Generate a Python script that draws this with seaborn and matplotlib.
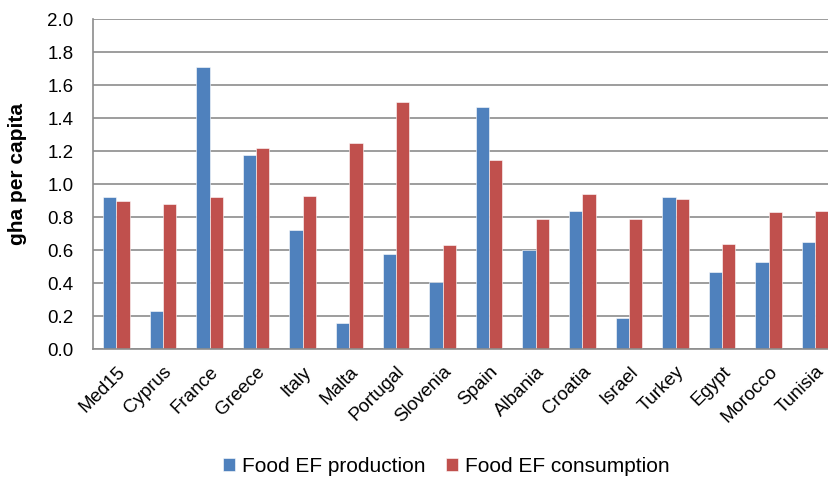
import pandas as pd
import seaborn as sns
import matplotlib.pyplot as plt

# 数据
countries = ['Med15', 'Cyprus', 'France', 'Greece', 'Italy', 'Malta', 'Portugal', 'Slovenia',
             'Spain', 'Albania', 'Croatia', 'Israel', 'Turkey', 'Egypt', 'Morocco', 'Tunisia']
production = [0.92, 0.23, 1.71, 1.18, 0.72, 0.16, 0.58, 0.41,
              1.47, 0.60, 0.84, 0.19, 0.92, 0.47, 0.53, 0.65]
consumption = [0.90, 0.88, 0.92, 1.22, 0.93, 1.25, 1.50, 0.63,
               1.15, 0.79, 0.94, 0.79, 0.91, 0.64, 0.83, 0.84]
series_names = ['Food EF production', 'Food EF consumption']
colors = ['#4F81BD', '#C0504D']

df = pd.DataFrame({
    'country': countries * 2,
    'value': production + consumption,
    'series': [series_names[0]] * len(countries) + [series_names[1]] * len(countries),
})

sns.set_style('white')
plt.rcParams['font.family'] = ['Liberation Sans', 'DejaVu Sans']
plt.rcParams['text.color'] = 'black'
plt.rcParams['xtick.color'] = 'black'
plt.rcParams['ytick.color'] = 'black'
plt.rcParams['axes.labelcolor'] = 'black'

fig = plt.figure(figsize=(8.29, 4.79), dpi=100)
ax = fig.add_axes([0.1122, 0.2708, 0.8994, 0.689])

sns.barplot(data=df, x='country', y='value', hue='series', palette=colors,
            width=0.57, saturation=1, ax=ax, edgecolor='white', linewidth=0.4)

# 坐标轴设置
ax.set_ylim(0, 2.0)
ax.set_xlim(-0.5, len(countries) - 0.5)
ax.set_yticks([i * 0.2 for i in range(11)])
ax.set_yticklabels([f'{i * 0.2:.1f}' for i in range(11)], fontsize=13.5)
ax.set_xticks(range(len(countries)))
ax.set_xticklabels(countries, rotation=45, ha='right', rotation_mode='anchor', fontsize=13.5)
ax.tick_params(axis='y', length=4, color='#8c8c8c', pad=10)
ax.tick_params(axis='x', length=0, pad=10)
ax.set_xlabel('')
ax.set_ylabel('gha per capita', fontsize=15, fontweight='bold')
ax.yaxis.set_label_coords(-0.088, 0.53)

ax.yaxis.grid(True, color='#8c8c8c', linewidth=1.2)
ax.set_axisbelow(True)
for side in ['top', 'right']:
    ax.spines[side].set_visible(False)
for side in ['left', 'bottom']:
    ax.spines[side].set_color('#8c8c8c')
    ax.spines[side].set_linewidth(1.2)

# 图例放在底部
handles, labels = ax.get_legend_handles_labels()
ax.get_legend().remove()
fig.legend(handles, labels, loc='center', bbox_to_anchor=(0.538, 0.026), ncol=2,
           frameon=False, fontsize=15, handlelength=0.6, handleheight=0.6,
           handletextpad=0.3, columnspacing=1.0)

fig.savefig('out.png', dpi=100)
